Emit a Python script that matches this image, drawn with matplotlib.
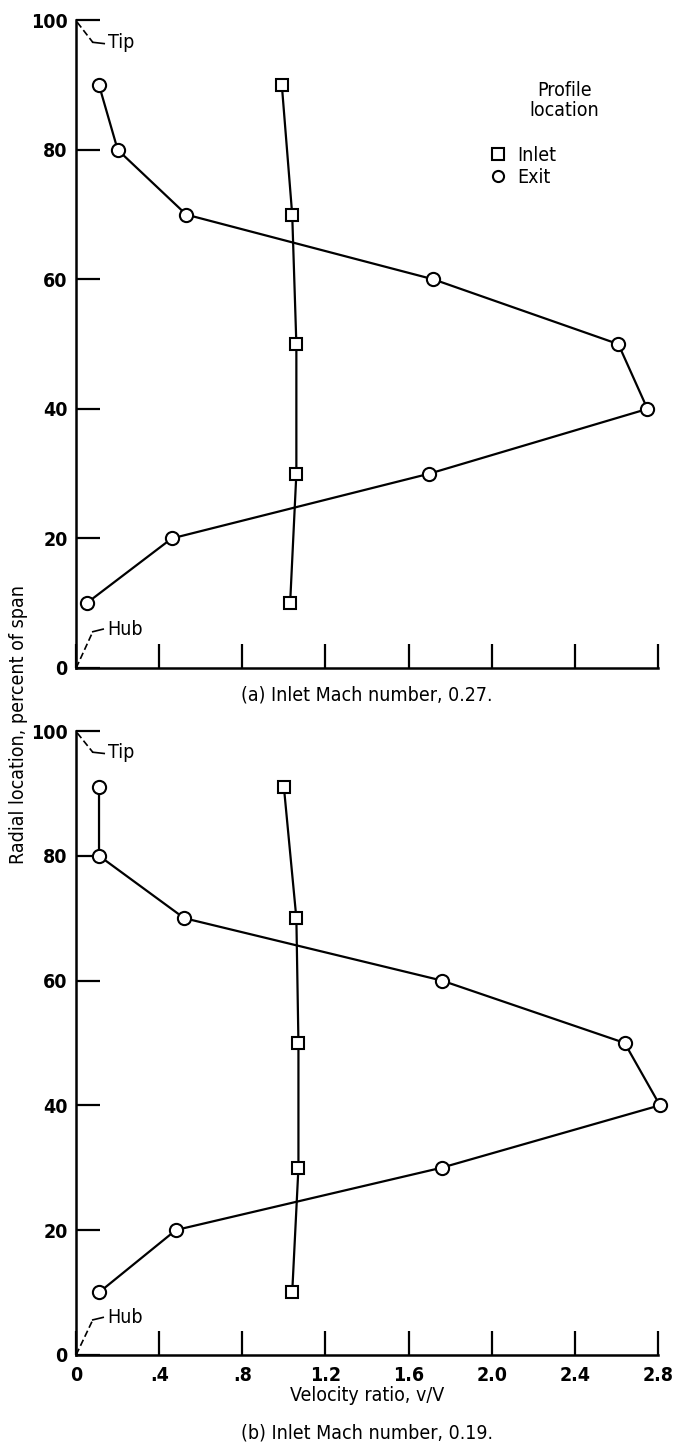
import numpy as np
import matplotlib
matplotlib.use("Agg")
import matplotlib.pyplot as plt
from matplotlib.lines import Line2D

plt.rcParams['font.family'] = ['DejaVu Sans']
plt.rcParams['font.stretch'] = 'condensed'
plt.rcParams['font.size'] = 14

# radial location, percent of span
exit_span_a = [90, 80, 70, 60, 50, 40, 30, 20, 10]
exit_ratio_a = [0.11, 0.20, 0.53, 1.72, 2.61, 2.75, 1.70, 0.46, 0.05]
inlet_span_a = [90, 70, 50, 30, 10]
inlet_ratio_a = [0.99, 1.04, 1.06, 1.06, 1.03]

exit_span_b = [91, 80, 70, 60, 50, 40, 30, 20, 10]
exit_ratio_b = [0.11, 0.11, 0.52, 1.76, 2.64, 2.81, 1.76, 0.48, 0.11]
inlet_span_b = [91, 70, 50, 30, 10]
inlet_ratio_b = [1.00, 1.06, 1.07, 1.07, 1.04]

x_ticks = [0, 0.4, 0.8, 1.2, 1.6, 2.0, 2.4, 2.8]
x_tick_labels = ['0', '.4', '.8', '1.2', '1.6', '2.0', '2.4', '2.8']
y_ticks = [0, 20, 40, 60, 80, 100]

captions = ['(a) Inlet Mach number, 0.27.', '(b) Inlet Mach number, 0.19.']

fig = plt.figure(figsize=(6.74, 14.49), dpi=100)
ax_a = fig.add_axes([0.113, 0.539, 0.863, 0.447])
ax_b = fig.add_axes([0.113, 0.065, 0.863, 0.4305])

panels = [
    (ax_a, exit_ratio_a, exit_span_a, inlet_ratio_a, inlet_span_a),
    (ax_b, exit_ratio_b, exit_span_b, inlet_ratio_b, inlet_span_b),
]

for i, (ax, ex, ey, ix, iy) in enumerate(panels):
    ax.plot(ex, ey, '-o', color='black', lw=1.6, ms=9.5, mfc='white',
            mec='black', mew=1.5, zorder=3, clip_on=False)
    ax.plot(ix, iy, '-s', color='black', lw=1.6, ms=8.5, mfc='white',
            mec='black', mew=1.5, zorder=3, clip_on=False)

    ax.set_xlim(0, 2.8)
    ax.set_ylim(0, 100)
    ax.spines['top'].set_visible(False)
    ax.spines['right'].set_visible(False)
    ax.spines['left'].set_linewidth(1.8)
    ax.spines['bottom'].set_linewidth(1.8)
    ax.set_yticks(y_ticks)
    ax.set_xticks(x_ticks)
    ax.tick_params(direction='in', length=17, width=1.6, pad=6)
    ax.tick_params(axis='x', pad=8)
    if i == 0:
        ax.set_xticklabels([])
    else:
        ax.set_xticklabels(x_tick_labels)
        ax.set_xlabel('Velocity ratio, v/V', labelpad=1)
    for lab in ax.get_xticklabels() + ax.get_yticklabels():
        lab.set_fontweight('bold')

    # tip and hub leaders
    ax.plot([0.005, 0.08], [99.7, 96.6], color='black',
            lw=1.2, ls=(0, (4, 2)), clip_on=False)
    ax.plot([0.08, 0.135], [96.6, 96.4], color='black', lw=1.2)
    ax.text(0.155, 96.5, 'Tip', va='center', ha='left')
    ax.plot([0.0, 0.08], [0.0, 5.6], color='black',
            lw=1.2, ls=(0, (4, 2)), clip_on=False)
    ax.plot([0.08, 0.13], [5.6, 6.0], color='black', lw=1.2)
    ax.text(0.15, 6.0, 'Hub', va='center', ha='left')

    ax.text(0.5, -0.042 if i == 0 else -0.125, captions[i],
            transform=ax.transAxes, ha='center', va='center')

handles = [
    Line2D([], [], ls='none', marker='s', ms=8, mfc='white', mec='black', mew=1.5),
    Line2D([], [], ls='none', marker='o', ms=8, mfc='white', mec='black', mew=1.5),
]
ax_a.legend(handles, ['Inlet', 'Exit'], frameon=False, loc='upper left',
            bbox_to_anchor=(0.712, 0.806), borderpad=0, borderaxespad=0,
            handlelength=0.8, handletextpad=0.6, labelspacing=0.15,
            fontsize=14)
ax_a.text(2.35, 87.6, 'Profile\nlocation', ha='center', va='center',
          linespacing=1.1)

fig.text(0.028, 0.5, 'Radial location, percent of span', rotation=90,
         ha='center', va='center')

fig.savefig('out.png', dpi=100)
